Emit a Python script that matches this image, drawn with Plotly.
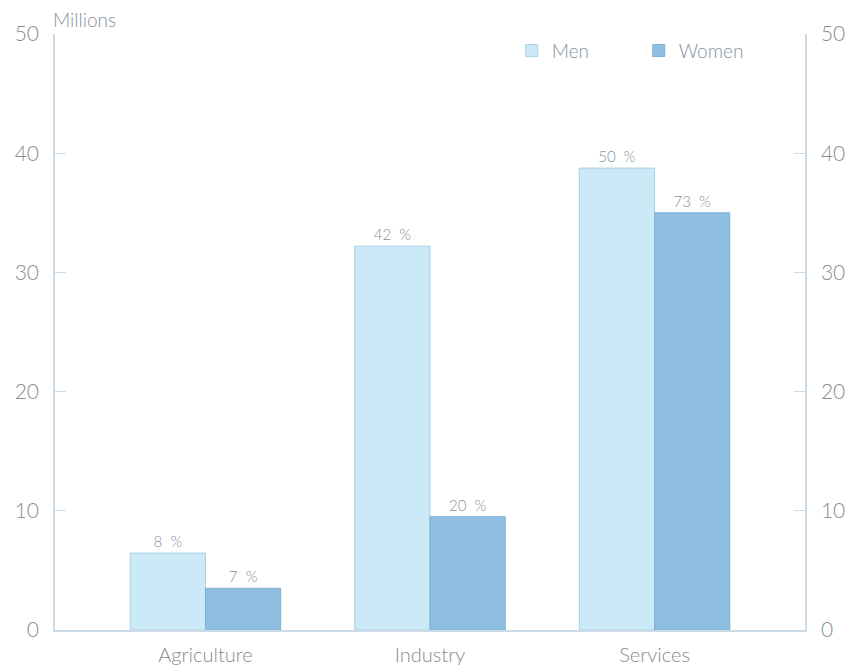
import plotly.graph_objects as go

# Employment by sector, millions of people
sectors = ["Agriculture", "Industry", "Services"]
men = [6.45, 32.2, 38.75]
women = [3.5, 9.5, 35.0]
# Share of each gender's total employment in the sector (%)
men_share = [8, 42, 50]
women_share = [7, 20, 73]

y_ticks = [0, 10, 20, 30, 40, 50]

FONT = "Lato"
TEXT = "#878c92"
LABEL = "#8592a0"
AXIS = "#cddbe7"
MEN_FILL = "#cbe9f6"
MEN_EDGE = "#a9d0e5"
WOMEN_FILL = "#8ebfe0"
WOMEN_EDGE = "#7fb1d6"
NBSP = "\u00a0"


def pct(v):
    return f"{v}{NBSP}{NBSP}%"


fig = go.Figure()
fig.add_trace(go.Bar(
    x=sectors, y=men, name="Men",
    marker=dict(color=MEN_FILL, line=dict(color=MEN_EDGE, width=1)),
    text=[pct(s) for s in men_share], textposition="outside",
    textfont=dict(family=FONT, size=15, color=LABEL, weight=300),
    cliponaxis=False,
))
fig.add_trace(go.Bar(
    x=sectors, y=women, name="Women",
    marker=dict(color=WOMEN_FILL, line=dict(color=WOMEN_EDGE, width=1)),
    text=[pct(s) for s in women_share], textposition="outside",
    textfont=dict(family=FONT, size=15, color=LABEL, weight=300),
    cliponaxis=False,
))
# Invisible trace to carry the right-hand axis
fig.add_trace(go.Scatter(x=sectors, y=[None] * 3, yaxis="y2",
                         showlegend=False, hoverinfo="skip"))

axis_common = dict(
    range=[0, 50], tickvals=y_ticks, showgrid=False, zeroline=False,
    showline=True, linecolor=AXIS, linewidth=1.5,
    ticks="inside", ticklen=11, tickcolor=AXIS,
    ticklabelstandoff=10, automargin=False,
    tickfont=dict(family=FONT, size=21, color=TEXT, weight=300),
)

fig.update_layout(
    width=855, height=666,
    margin=dict(l=55, r=50, t=34, b=36, autoexpand=False),
    paper_bgcolor="white", plot_bgcolor="white",
    barmode="group", bargap=0.33, bargroupgap=0,
    xaxis=dict(
        range=[-0.67, 2.67], showline=True, linecolor=AXIS, linewidth=1.5,
        ticks="", showgrid=False, zeroline=False, ticklabelstandoff=6,
        automargin=False,
        tickfont=dict(family=FONT, size=20, color=TEXT, weight=300),
    ),
    yaxis=dict(**axis_common, side="left"),
    yaxis2=dict(**axis_common, side="right", overlaying="y"),
    legend=dict(
        orientation="h", x=0.609, y=0.972, xanchor="left", yanchor="middle",
        font=dict(family=FONT, size=19, color=LABEL, weight=300),
        entrywidth=82, itemwidth=30, traceorder="normal",
        bgcolor="rgba(0,0,0,0)",
    ),
    annotations=[dict(
        text="Millions", xref="paper", yref="paper", x=0, y=1.0,
        xanchor="left", yanchor="bottom", showarrow=False, yshift=1, xshift=-4,
        font=dict(family=FONT, size=19, color=LABEL, weight=300),
    )],
)

fig.write_html("out.html")
